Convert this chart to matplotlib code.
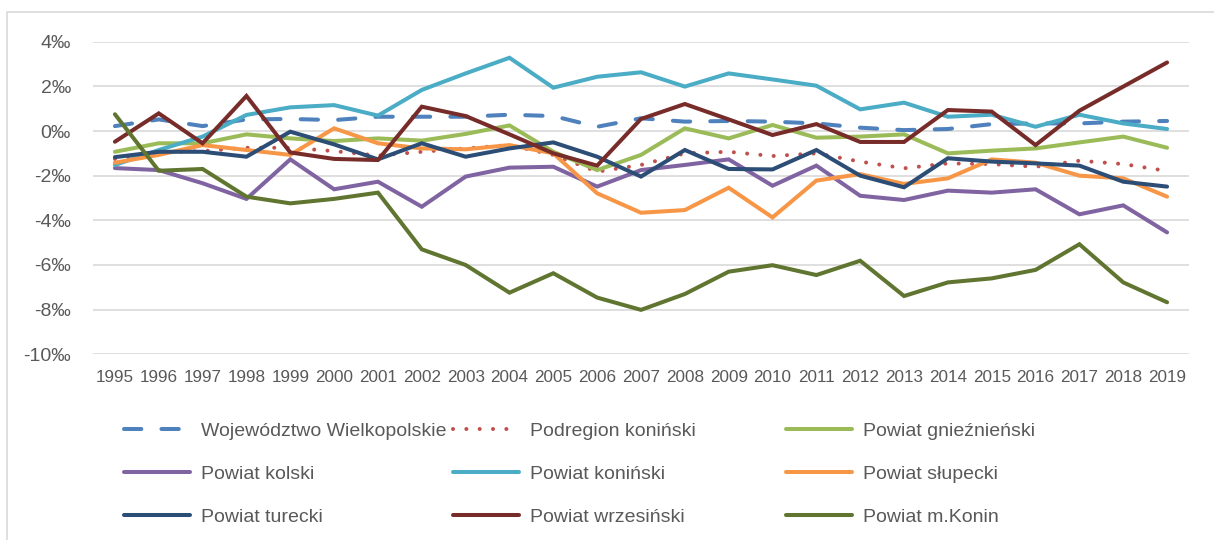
"""
Przyrost naturalny (‰) w powiatach podregionu konińskiego, 1995-2019.
"""

import matplotlib
matplotlib.use('Agg')
import matplotlib.pyplot as plt
from matplotlib import font_manager
from matplotlib.lines import Line2D

years = [str(y) for y in range(1995, 2020)]

wojewodztwo = [0.22, 0.52, 0.22, 0.52, 0.54, 0.49, 0.64, 0.64, 0.64, 0.73, 0.67, 0.19, 0.57,
               0.42, 0.45, 0.42, 0.34, 0.15, 0.04, 0.09, 0.31, 0.34, 0.34, 0.42, 0.45]
podregion = [-1.25, -0.95, -0.9, -0.75, -0.75, -0.9, -1.1, -0.93, -0.78, -0.63, -1.07, -1.82, -1.52,
             -1.0, -0.93, -1.12, -1.0, -1.37, -1.67, -1.45, -1.48, -1.6, -1.33, -1.48, -1.79]
gnieznienski = [-0.93, -0.55, -0.55, -0.15, -0.33, -0.45, -0.33, -0.43, -0.13, 0.25, -0.93, -1.75, -1.07,
                0.12, -0.33, 0.27, -0.30, -0.25, -0.15, -1.0, -0.88, -0.78, -0.51, -0.25, -0.75]
kolski = [-1.66, -1.75, -2.34, -3.04, -1.27, -2.61, -2.27, -3.39, -2.04, -1.64, -1.60, -2.49, -1.75,
          -1.52, -1.27, -2.45, -1.55, -2.9, -3.09, -2.67, -2.76, -2.61, -3.73, -3.33, -4.54]
koninski = [-1.52, -0.85, -0.25, 0.72, 1.06, 1.16, 0.69, 1.84, 2.58, 3.28, 1.94, 2.43, 2.63,
            1.99, 2.58, 2.31, 2.03, 0.97, 1.27, 0.64, 0.73, 0.19, 0.73, 0.34, 0.09]
slupecki = [-1.42, -1.07, -0.63, -0.85, -1.07, 0.12, -0.55, -0.78, -0.82, -0.63, -1.0, -2.79, -3.66,
            -3.54, -2.54, -3.87, -2.22, -1.93, -2.37, -2.12, -1.27, -1.42, -2.0, -2.12, -2.94]
turecki = [-1.17, -0.93, -0.93, -1.15, -0.03, -0.6, -1.27, -0.55, -1.15, -0.78, -0.51, -1.15, -2.04,
           -0.85, -1.70, -1.72, -0.85, -2.0, -2.52, -1.22, -1.37, -1.45, -1.55, -2.27, -2.49]
wrzesinski = [-0.48, 0.79, -0.55, 1.57, -0.96, -1.25, -1.30, 1.09, 0.67, -0.15, -1.0, -1.55, 0.54,
              1.21, 0.52, -0.18, 0.31, -0.49, -0.49, 0.94, 0.87, -0.63, 0.91, 1.99, 3.07]
konin = [0.75, -1.78, -1.70, -2.94, -3.24, -3.04, -2.76, -5.30, -6.0, -7.24, -6.37, -7.46, -8.01,
         -7.30, -6.30, -6.01, -6.45, -5.81, -7.39, -6.78, -6.60, -6.22, -5.07, -6.78, -7.67]

y_ticks = [4, 2, 0, -2, -4, -6, -8, -10]
y_tick_labels = ['4‰', '2‰', '0‰', '-2‰', '-4‰', '-6‰', '-8‰', '-10‰']

series = [
    ('Województwo Wielkopolskie', wojewodztwo, '#4F81BD', 'dash'),
    ('Podregion koniński', podregion, '#C0504D', 'dot'),
    ('Powiat gnieźnieński', gnieznienski, '#9BBB59', 'solid'),
    ('Powiat kolski', kolski, '#8064A2', 'solid'),
    ('Powiat koniński', koninski, '#4BACC6', 'solid'),
    ('Powiat słupecki', slupecki, '#F79646', 'solid'),
    ('Powiat turecki', turecki, '#2C4D75', 'solid'),
    ('Powiat wrzesiński', wrzesinski, '#772C2A', 'solid'),
    ('Powiat m.Konin', konin, '#5F7530', 'solid'),
]

text_color = '#595959'
grid_color = '#D9D9D9'
lw = 2.9

names = {f.name for f in font_manager.fontManager.ttflist}
if 'Liberation Sans Narrow' in names:
    xtick_font = dict(family='Liberation Sans Narrow', size=14)
else:
    xtick_font = dict(family='Liberation Sans', size=12.3)
plt.rcParams['font.family'] = ['Liberation Sans', 'DejaVu Sans']

fig = plt.figure(figsize=(12.14, 5.4), dpi=100)
ax = fig.add_axes([93 / 1214, 1 - 354.3 / 540, (1189 - 93) / 1214, (354.3 - 41.7) / 540])

x = range(len(years))
handles = []
for label, values, color, style in series:
    if style == 'dash':
        line, = ax.plot(x, values, color=color, lw=lw, label=label,
                        dashes=(4.3, 5.0), dash_capstyle='round')
    elif style == 'dot':
        line, = ax.plot(x, values, color=color, lw=lw, label=label,
                        dashes=(0.01, 3.3), dash_capstyle='round')
    else:
        line, = ax.plot(x, values, color=color, lw=lw, label=label,
                        solid_capstyle='round', solid_joinstyle='miter')
    handles.append(line)

ax.set_xlim(-0.5, len(years) - 0.5)
ax.set_ylim(-10, 4)
ax.set_yticks(y_ticks)
ax.set_yticklabels(y_tick_labels, fontsize=14, color=text_color)
ax.set_xticks(list(x))
ax.set_xticklabels(years, color=text_color, **xtick_font)
ax.tick_params(axis='both', length=0)
ax.tick_params(axis='y', pad=16)
ax.tick_params(axis='x', pad=11)
ax.grid(axis='y', color=grid_color, lw=1.2)
ax.set_axisbelow(True)
for s in ax.spines.values():
    s.set_visible(False)

# legend: three fixed-width columns, filled row by row
col_x = [124, 453, 786]
for c in range(3):
    fig.legend(handles=[handles[c], handles[c + 3], handles[c + 6]],
               loc='center left', bbox_to_anchor=(col_x[c] / 1214, 1 - 474 / 540),
               frameon=False, fontsize=14, handlelength=3.4, handletextpad=0.55,
               labelspacing=1.32, borderpad=0, borderaxespad=0, labelcolor=text_color)

# chart border
fig.add_artist(Line2D([6.5 / 1214, 6.5 / 1214, 1], [0, 1 - 12 / 540, 1 - 12 / 540],
                      transform=fig.transFigure, color=grid_color, lw=1.2))

fig.savefig('out.png', dpi=100)
